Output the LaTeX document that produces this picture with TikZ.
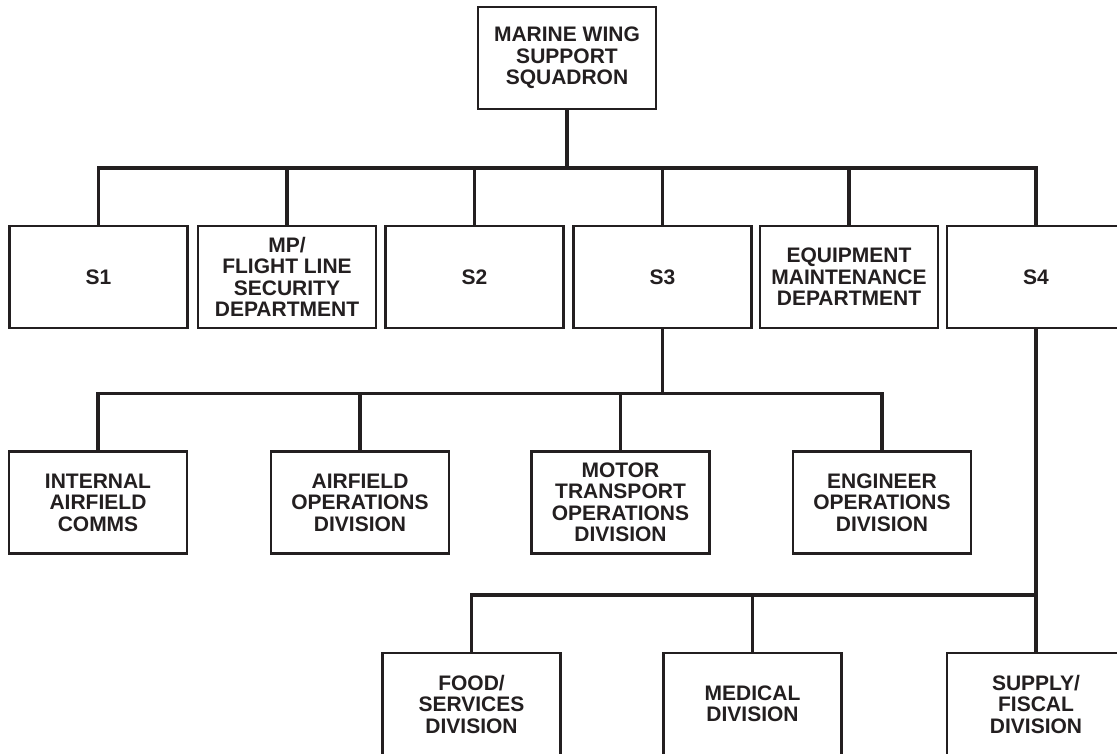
\documentclass[tikz,border=0pt]{standalone}
\usepackage{fontspec}
\setmainfont{Liberation Sans}
\definecolor{ink}{HTML}{231F20}
\begin{document}
\begin{tikzpicture}[x=1pt,y=-1pt,
  box/.style={draw=ink, line width=2.9pt, minimum width=178pt, minimum height=102pt,
    inner sep=0pt, align=center, text=ink,
    font=\fontsize{21}{21.5}\selectfont\bfseries},
  conn/.style={draw=ink, line width=3.8pt}]
\useasboundingbox (0,0) rectangle (1117,754);
\fill[white] (0,0) rectangle (1117,754);
\clip (0,0) rectangle (1117,754);
% top
\node[box] (top) at (567,58) {MARINE WING\\SUPPORT\\SQUADRON};
% row 1
\node[box] (s1) at (98.5,277) {S1};
\node[box] (mp) at (287,277) {MP/\\FLIGHT LINE\\SECURITY\\DEPARTMENT};
\node[box] (s2) at (474.5,277) {S2};
\node[box] (s3) at (662.5,277) {S3};
\node[box] (eq) at (849,277) {EQUIPMENT\\MAINTENANCE\\DEPARTMENT};
\node[box] (s4) at (1036,277) {S4};
% row 2
\node[box] (iac) at (98,502.5) {INTERNAL\\AIRFIELD\\COMMS};
\node[box] (aod) at (360,502.5) {AIRFIELD\\OPERATIONS\\DIVISION};
\node[box] (mto) at (620.5,502.5) {MOTOR\\TRANSPORT\\OPERATIONS\\DIVISION};
\node[box] (eng) at (882,502.5) {ENGINEER\\OPERATIONS\\DIVISION};
% row 3
\node[box] (food) at (471.5,704) {FOOD/\\SERVICES\\DIVISION};
\node[box] (med) at (752.5,704) {MEDICAL\\DIVISION};
\node[box] (sup) at (1036,704) {SUPPLY/\\FISCAL\\DIVISION};
% bus coordinates
\coordinate (b1) at (0,168);
\coordinate (b2) at (0,393.5);
\coordinate (b3) at (0,595);
% level 1
\draw[conn] (top.south) -- (top.south |- b1);
\draw[conn,line cap=rect] (s1.north |- b1) -- (s4.north |- b1);
\foreach \n in {s1,mp,s2,s3,eq,s4} \draw[conn] (\n.north) -- (\n.north |- b1);
% level 2
\draw[conn] (s3.south) -- (s3.south |- b2);
\draw[conn,line cap=rect] (iac.north |- b2) -- (eng.north |- b2);
\foreach \n in {iac,aod,mto,eng} \draw[conn] (\n.north) -- (\n.north |- b2);
% level 3
\draw[conn] (s4.south) -- (sup.north);
\draw[conn,line cap=rect] (food.north |- b3) -- (sup.north |- b3);
\foreach \n in {food,med} \draw[conn] (\n.north) -- (\n.north |- b3);
\end{tikzpicture}
\end{document}
